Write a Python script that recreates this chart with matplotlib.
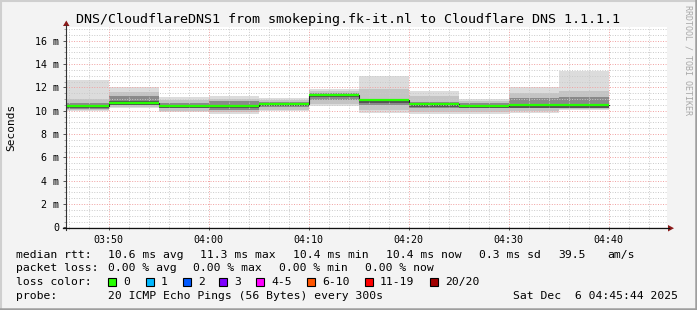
import matplotlib
matplotlib.use("Agg")
import matplotlib.pyplot as plt
from matplotlib.patches import Rectangle, Polygon
from matplotlib.lines import Line2D

W, H = 697, 310
MONO = "DejaVu Sans Mono"

# 5 minute steps, values in ms
step_edges = ["03:45", "03:50", "03:55", "04:00", "04:05", "04:10",
              "04:15", "04:20", "04:25", "04:30", "04:35", "04:40"]
median_ms = [10.43, 10.69, 10.40, 10.40, 10.60, 11.37, 10.89, 10.55, 10.40, 10.45, 10.45]
smoke_max = [12.6, 12.0, 11.15, 11.25, 11.05, 11.9, 13.0, 11.7, 11.0, 12.05, 13.4]
smoke_hi = [11.0, 11.6, 10.9, 11.0, 10.9, 11.65, 11.9, 11.3, 10.85, 11.5, 11.7]
core_hi = [10.65, 11.25, 10.65, 10.8, 10.75, 11.5, 11.0, 10.75, 10.7, 11.1, 11.2]
core_lo = [10.15, 10.55, 10.2, 10.1, 10.35, 10.9, 10.5, 10.2, 10.2, 10.25, 10.25]
smoke_lo = [10.05, 10.35, 10.0, 9.9, 10.1, 10.6, 10.1, 9.9, 9.9, 10.0, 10.15]
smoke_min = [10.0, 10.25, 9.9, 9.72, 9.95, 10.4, 9.83, 9.69, 9.69, 9.78, 10.06]

plot_start = "03:45:44"
plot_end = "04:45:44"
x_ticks = ["03:50", "04:00", "04:10", "04:20", "04:30", "04:40"]
y_ticks = [0, 2, 4, 6, 8, 10, 12, 14, 16]

loss_labels = ["0", "1", "2", "3", "4-5", "6-10", "11-19", "20/20"]
loss_colors = ["#26ff00", "#00b8ff", "#0059ff", "#7e00ff", "#ff00ff", "#ff5500", "#ff0000", "#a10000"]


def mins(s):
    p = [int(v) for v in s.split(":")]
    m = p[0] * 60 + p[1]
    if len(p) > 2:
        m += p[2] / 60.0
    return m


def px(x, y):
    return (x / W, 1 - y / H)


fig = plt.figure(figsize=(W / 100, H / 100), dpi=100)
fig.patch.set_facecolor("#f3f3f3")

ax_l, ax_r, ax_b, ax_t = 66, 667, 227.4, 27
ax = fig.add_axes([ax_l / W, 1 - ax_b / H, (ax_r - ax_l) / W, (ax_b - ax_t) / H])
ax.set_facecolor("white")
for s in ax.spines.values():
    s.set_visible(False)

x0, x1 = mins(plot_start), mins(plot_end)
ax.set_xlim(x0, x1 + 0.1)
ax.set_ylim(0, (ax_b - ax_t) / 11.67)

# smoke
left = [mins(e) for e in step_edges[:-1]]
width = [mins(b) - mins(a) for a, b in zip(step_edges[:-1], step_edges[1:])]
layers = [(smoke_min, smoke_max, "#dcdcdc"),
          (smoke_lo, smoke_hi, "#c4c4c4"),
          (core_lo, core_hi, "#8a8a8a")]
for lo, hi, c in layers:
    ax.bar(left, [h - l for l, h in zip(lo, hi)], bottom=lo, width=width,
           align="edge", color=c, linewidth=0, zorder=1)
# darkest band right round the median
ax.bar(left, [0.3] * len(left), bottom=[m - 0.2 for m in median_ms], width=width,
       align="edge", color="#555555", linewidth=0, zorder=1.2)

# median line
edges_m = [mins(e) for e in step_edges]
ax.step(edges_m, median_ms + [median_ms[-1]], where="post", color="#222222", lw=0.8, zorder=4)
ax.hlines(median_ms, left, [l + w for l, w in zip(left, width)], color=loss_colors[0],
          lw=1.6, zorder=5)

# grid
major_x = [mins(t) for t in x_ticks]
minor_x = [m for m in range(226, 286, 2) if m not in major_x]
minor_y = [v / 2 for v in range(0, 35) if v % 4 != 0]
ax.set_xticks(major_x)
ax.set_xticks(minor_x, minor=True)
ax.set_yticks(y_ticks)
ax.set_yticks(minor_y, minor=True)
ax.set_axisbelow(False)
ax.grid(which="minor", color="#cacaca", lw=0.7, linestyle=(0, (1, 1.6)))
ax.grid(which="major", color="#f0a0a0", lw=0.7, linestyle=(0, (1, 1.6)))

ax.set_xticklabels(x_ticks, fontfamily=MONO, fontsize=7.2)
ax.set_yticklabels([f"{v} m" if v else "0" for v in y_ticks], fontfamily=MONO, fontsize=7.2)
ax.tick_params(which="major", length=2, width=0.7, color="#555555", pad=2.8)
ax.tick_params(which="minor", length=1.5, width=0.6, color="#999999")
ax.tick_params(axis="x", which="major", pad=3.8)

# axis lines with arrows
fig.add_artist(Line2D([px(66, 0)[0]] * 2, [px(0, 230)[1], px(0, 25)[1]], color="#333333", lw=0.8))
fig.add_artist(Line2D([px(63, 0)[0], px(669, 0)[0]], [px(0, 228)[1]] * 2, color="#111111", lw=0.9))
fig.add_artist(Polygon([px(63, 26), px(69.5, 26), px(66.3, 20.5)], closed=True,
                       facecolor="#8b1a1a", edgecolor="none"))
fig.add_artist(Polygon([px(668, 225), px(668, 231.5), px(674, 228.2)], closed=True,
                       facecolor="#8b1a1a", edgecolor="none"))

# frame
fig.add_artist(Line2D([0, 1], [1 - 0.5 / H] * 2, color="#cfcfcf", lw=1.5))
fig.add_artist(Line2D([0.5 / W] * 2, [0, 1], color="#cfcfcf", lw=1.5))
fig.add_artist(Line2D([0, 1], [1.2 / H] * 2, color="#9e9e9e", lw=1.8))
fig.add_artist(Line2D([1 - 1.2 / W] * 2, [0, 1], color="#9e9e9e", lw=1.8))

# titles
fig.text(*px(348, 19), "DNS/CloudflareDNS1 from smokeping.fk-it.nl to Cloudflare DNS 1.1.1.1",
         ha="center", va="center", fontfamily=MONO, fontsize=9.6)
fig.text(*px(11, 127), "Seconds", rotation=90, ha="center", va="center",
         fontfamily=MONO, fontsize=8)
fig.text(*px(688, 5), "RRDTOOL / TOBI OETIKER", rotation=270, ha="center", va="top",
         fontfamily=MONO, fontsize=6, color="#a8a8a8")

# legend lines
fs = 8.2
rows = [
    (255, [(16, "median rtt:"), (107.7, "10.6 ms avg"), (200, "11.3 ms max"),
           (293, "10.4 ms min"), (386, "10.4 ms now"), (479, "0.3 ms sd"),
           (558, "39.5"), (607, "am/s")]),
    (268, [(16, "packet loss:"), (107.7, "0.00 % avg"), (193, "0.00 % max"),
           (279, "0.00 % min"), (365, "0.00 % now")]),
    (282, [(16, "loss color:")]),
    (296, [(16, "probe:"), (107.7, "20 ICMP Echo Pings (56 Bytes) every 300s"),
           (513, "Sat Dec  6 04:45:44 2025")]),
]
for y, items in rows:
    for x, t in items:
        fig.text(*px(x, y), t, ha="left", va="center", fontfamily=MONO, fontsize=fs)

sq_x = [108, 146, 183, 219, 256, 307, 365, 430]
for x, lab, c in zip(sq_x, loss_labels, loss_colors):
    fig.add_artist(Rectangle(px(x, 286), 8 / W, 8 / H, facecolor=c, edgecolor="black", lw=0.8))
    fig.text(*px(x + 15, 282), lab, ha="left", va="center", fontfamily=MONO, fontsize=fs)

fig.savefig("out.png", dpi=100, facecolor=fig.get_facecolor())
